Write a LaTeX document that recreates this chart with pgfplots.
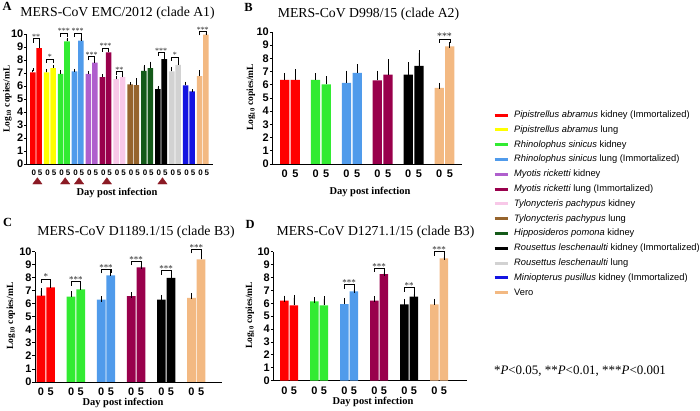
\documentclass[border=0pt]{standalone}
\usepackage{fontspec}
\setmainfont{Liberation Serif}
\setsansfont{Liberation Sans}
\usepackage{pgfplots}
\pgfplotsset{compat=1.18}

\definecolor{cRed}{RGB}{255,0,0}
\definecolor{cYel}{RGB}{255,255,0}
\definecolor{cGrn}{RGB}{50,235,50}
\definecolor{cBlu}{RGB}{80,155,235}
\definecolor{cPur}{RGB}{175,95,205}
\definecolor{cMar}{RGB}{153,0,76}
\definecolor{cPnk}{RGB}{248,200,232}
\definecolor{cBrn}{RGB}{150,100,45}
\definecolor{cDgr}{RGB}{20,90,25}
\definecolor{cBlk}{RGB}{0,0,0}
\definecolor{cGry}{RGB}{210,210,210}
\definecolor{cNav}{RGB}{20,20,225}
\definecolor{cVer}{RGB}{243,185,130}
\definecolor{cTri}{RGB}{139,26,36}

\pgfplotsset{
  panel/.style={
    scale only axis, anchor=south west,
    ymin=0, ymax=10, ytick={0,1,...,10},
    axis lines*=left,
    axis line style={line width=0.9bp},
    tick style={line width=0.9bp, black},
    tick align=outside,
    major tick length=2.5bp,
    xtick style={draw=none},
    clip=false,
    /pgf/number format/assume math mode=true,
    yticklabel style={font=\sffamily\bfseries\fontsize{11}{11}\selectfont, inner sep=0.8bp},
    xticklabel style={font=\sffamily\bfseries\fontsize{11}{11}\selectfont},
    legend image code/.code={\draw[##1] (0bp,0bp) -- (13bp,0bp);},
  },
  bars/.style={ybar, bar shift=0pt, draw=none, fill=#1,
    error bars/y dir=plus, error bars/y explicit,
    error bars/error bar style={black, line width=0.7bp}},
  brk/.style={black, line width=0.6bp, mark=none},
}
\tikzset{
  starA/.style={font=\fontsize{8}{8}\selectfont, anchor=base, inner sep=0pt, text=black!85, yshift=-0.8bp},
  starB/.style={font=\fontsize{10}{10}\selectfont, anchor=base, inner sep=0pt, text=black!85, yshift=-1bp},
  starC/.style={font=\fontsize{9}{9}\selectfont, anchor=base, inner sep=0pt, text=black!85, yshift=-1bp},
}
\newcommand{\sig}[7]{%
  \addplot[brk, forget plot] coordinates {(#1,#3) (#1,#4) (#2,#4) (#2,#3)};
  \node[#7] at (axis cs:#5,#4) {#6};
}

\begin{document}
\begin{tikzpicture}
\useasboundingbox (0bp,0bp) rectangle (700bp,411bp);

% ---------------- Panel A ----------------
\begin{axis}[panel, at={(26.7bp,247bp)}, width=186.6bp, height=130bp,
  xmin=0.33, xmax=13.76, bar width=0.40,
  xtick={0.77,1.23,1.77,2.23,2.77,3.23,3.77,4.23,4.77,5.23,5.77,6.23,6.77,7.23,7.77,8.23,8.77,9.23,9.77,10.23,10.77,11.23,11.77,12.23,12.77,13.23},
  xticklabels={0,5,0,5,0,5,0,5,0,5,0,5,0,5,0,5,0,5,0,5,0,5,0,5,0,5},
  xticklabel style={font=\sffamily\bfseries\fontsize{8}{8}\selectfont, xshift=1bp},
  error bars/error mark options={black, line width=0.6bp, mark size=1.5bp},
  legend cell align=left,
  legend style={at={(2.499,0.41)}, anchor=north west, draw=none, fill=none,
    inner sep=0pt, row sep=6.2bp, column sep=5bp,
    nodes={font=\sffamily\fontsize{9.35}{9.35}\selectfont, inner sep=0pt, text height=6.7bp, text depth=1.9bp}},
]
\addlegendimage{line width=3bp, draw=cRed}\addlegendentry{\textit{Pipistrellus abramus} kidney (Immortalized)}
\addlegendimage{line width=3bp, draw=cYel}\addlegendentry{\textit{Pipistrellus abramus} lung}
\addlegendimage{line width=3bp, draw=cGrn}\addlegendentry{\textit{Rhinolophus sinicus} kidney}
\addlegendimage{line width=3bp, draw=cBlu}\addlegendentry{\textit{Rhinolophus sinicus} lung (Immortalized)}
\addlegendimage{line width=3bp, draw=cPur}\addlegendentry{\textit{Myotis ricketti} kidney}
\addlegendimage{line width=3bp, draw=cMar}\addlegendentry{\textit{Myotis ricketti} lung (Immortalized)}
\addlegendimage{line width=3bp, draw=cPnk}\addlegendentry{\textit{Tylonycteris pachypus} kidney}
\addlegendimage{line width=3bp, draw=cBrn}\addlegendentry{\textit{Tylonycteris pachypus} lung}
\addlegendimage{line width=3bp, draw=cDgr}\addlegendentry{\textit{Hipposideros pomona} kidney}
\addlegendimage{line width=3bp, draw=cBlk}\addlegendentry{\textit{Rousettus leschenaulti} kidney (Immortalized)}
\addlegendimage{line width=3bp, draw=cGry}\addlegendentry{\textit{Rousettus leschenaulti} lung}
\addlegendimage{line width=3bp, draw=cNav}\addlegendentry{\textit{Miniopterus pusillus} kidney (Immortalized)}
\addlegendimage{line width=3bp, draw=cVer}\addlegendentry{Vero}

\addplot[bars=cRed, forget plot] coordinates {(0.77,7.04) +- (0,0.21) (1.23,8.92) +- (0,0.38)};
\addplot[bars=cYel, forget plot] coordinates {(1.77,7.04) +- (0,0.16) (2.23,7.38) +- (0,0.12)};
\addplot[bars=cGrn, forget plot] coordinates {(2.77,6.94) +- (0,0.16) (3.23,9.43) +- (0,0.17)};
\addplot[bars=cBlu, forget plot] coordinates {(3.77,7.12) +- (0,0.08) (4.23,9.49) +- (0,0.21)};
\addplot[bars=cPur, forget plot] coordinates {(4.77,6.94) +- (0,0.10) (5.23,7.80) +- (0,0.20)};
\addplot[bars=cMar, forget plot] coordinates {(5.77,6.68) +- (0,0.12) (6.23,8.59) +- (0,0.15)};
\addplot[bars=cPnk, forget plot] coordinates {(6.77,6.53) +- (0,0.10) (7.23,6.68) +- (0,0.11)};
\addplot[bars=cBrn, forget plot] coordinates {(7.77,6.12) +- (0,0.08) (8.23,6.07) +- (0,0.40)};
\addplot[bars=cDgr, forget plot] coordinates {(8.77,7.17) +- (0,0.33) (9.23,7.38) +- (0,0.38)};
\addplot[bars=cBlk, forget plot] coordinates {(9.77,5.76) +- (0,0.14) (10.23,8.07) +- (0,0.21)};
\addplot[bars=cGry, forget plot] coordinates {(10.77,7.12) +- (0,0.21) (11.23,7.63) +- (0,0.37)};
\addplot[bars=cNav, forget plot] coordinates {(11.77,6.04) +- (0,0.18) (12.23,5.58) +- (0,0.07)};
\addplot[bars=cVer, forget plot] coordinates {(12.77,6.75) +- (0,0.35) (13.23,9.95) +- (0,0.10)};

\addplot[only marks, mark=triangle*, color=cTri, mark size=5.4bp, mark options={yscale=0.78}, forget plot]
  coordinates {(1.1,-1.38) (3.1,-1.38) (4.1,-1.38) (6.1,-1.38) (10.1,-1.38)};

\sig{0.77}{1.23}{9.34}{9.64}{1}{**}{starA}
\sig{1.77}{2.23}{7.77}{8.07}{2}{*}{starA}
\sig{2.77}{3.23}{9.78}{10.08}{3}{***}{starA}
\sig{3.77}{4.23}{9.78}{10.08}{4}{***}{starA}
\sig{4.77}{5.23}{7.98}{8.28}{5}{***}{starA}
\sig{5.77}{6.23}{8.62}{8.92}{6}{***}{starA}
\sig{6.77}{7.23}{6.82}{7.12}{7}{**}{starA}
\sig{9.77}{10.23}{8.29}{8.59}{10}{***}{starA}
\sig{10.77}{11.23}{7.93}{8.23}{11}{*}{starA}
\sig{12.77}{13.23}{9.90}{10.20}{13}{***}{starA}
\end{axis}

% ---------------- Panel B ----------------
\begin{axis}[panel, at={(272.3bp,247bp)}, width=189.4bp, height=132bp,
  xmin=0.427, xmax=6.557, bar width=0.30,
  xtick={0.827,1.173,1.827,2.173,2.827,3.173,3.827,4.173,4.827,5.173,5.827,6.173},
  xticklabels={0,5,0,5,0,5,0,5,0,5,0,5},
  error bars/error mark options={black, line width=0.7bp, mark size=3bp},
]
\addplot[bars=cRed, forget plot] coordinates {(0.827,6.38) +- (0,0.30) (1.173,6.38) +- (0,0.56)};
\addplot[bars=cGrn, forget plot] coordinates {(1.827,6.38) +- (0,0.25) (2.173,6.03) +- (0,0.40)};
\addplot[bars=cBlu, forget plot] coordinates {(2.827,6.15) +- (0,0.69) (3.173,6.91) +- (0,0.41)};
\addplot[bars=cMar, forget plot] coordinates {(3.827,6.33) +- (0,0.51) (4.173,6.78) +- (0,0.92)};
\addplot[bars=cBlk, forget plot] coordinates {(4.827,6.78) +- (0,0.71) (5.173,7.44) +- (0,0.96)};
\addplot[bars=cVer, forget plot] coordinates {(5.827,5.77) +- (0,0.15) (6.173,8.91) +- (0,0.10)};
\sig{5.827}{6.173}{9.17}{9.47}{6}{***}{starB}
\end{axis}

% ---------------- Panel C ----------------
\begin{axis}[panel, at={(35bp,29bp)}, width=186.7bp, height=130.3bp,
  xmin=0.641, xmax=6.844, bar width=0.29,
  xtick={0.84,1.16,1.84,2.16,2.84,3.16,3.84,4.16,4.84,5.16,5.84,6.16},
  xticklabels={0,5,0,5,0,5,0,5,0,5,0,5},
  error bars/error mark options={black, line width=0.7bp, mark size=3bp},
]
\addplot[bars=cRed, forget plot] coordinates {(0.84,6.62) +- (0,0.38) (1.16,7.26) +- (0,0.20)};
\addplot[bars=cGrn, forget plot] coordinates {(1.84,6.56) +- (0,0.16) (2.16,7.10) +- (0,0.16)};
\addplot[bars=cBlu, forget plot] coordinates {(2.84,6.33) +- (0,0.02) (3.16,8.18) +- (0,0.15)};
\addplot[bars=cMar, forget plot] coordinates {(3.84,6.59) +- (0,0.08) (4.16,8.79) +- (0,0.11)};
\addplot[bars=cBlk, forget plot] coordinates {(4.84,6.33) +- (0,0.13) (5.16,8.00) +- (0,0.13)};
\addplot[bars=cVer, forget plot] coordinates {(5.84,6.46) +- (0,0.13) (6.16,9.41) +- (0,0.33)};
\sig{0.84}{1.16}{7.62}{7.92}{1}{*}{starC}
\sig{1.84}{2.16}{7.39}{7.69}{2}{***}{starC}
\sig{2.84}{3.16}{8.34}{8.64}{3}{***}{starC}
\sig{3.84}{4.16}{8.96}{9.26}{4}{***}{starC}
\sig{4.84}{5.16}{8.24}{8.54}{5}{***}{starC}
\sig{5.84}{6.16}{9.88}{10.18}{6}{***}{starC}
\end{axis}

% ---------------- Panel D ----------------
\begin{axis}[panel, at={(273.3bp,30.3bp)}, width=193.4bp, height=129bp,
  xmin=0.47, xmax=6.917, bar width=0.283,
  xtick={0.843,1.157,1.843,2.157,2.843,3.157,3.843,4.157,4.843,5.157,5.843,6.157},
  xticklabels={0,5,0,5,0,5,0,5,0,5,0,5},
  error bars/error mark options={black, line width=0.7bp, mark size=3bp},
]
\addplot[bars=cRed, forget plot] coordinates {(0.843,6.20) +- (0,0.16) (1.157,5.84) +- (0,0.59)};
\addplot[bars=cGrn, forget plot] coordinates {(1.843,6.15) +- (0,0.10) (2.157,5.84) +- (0,0.46)};
\addplot[bars=cBlu, forget plot] coordinates {(2.843,5.94) +- (0,0.24) (3.157,6.93) +- (0,0.12)};
\addplot[bars=cMar, forget plot] coordinates {(3.843,6.20) +- (0,0.10) (4.157,8.27) +- (0,0.10)};
\addplot[bars=cBlk, forget plot] coordinates {(4.843,5.92) +- (0,0.20) (5.157,6.51) +- (0,0.18)};
\addplot[bars=cVer, forget plot] coordinates {(5.843,5.92) +- (0,0.20) (6.157,9.48) +- (0,0.08)};
\sig{2.843}{3.157}{7.14}{7.44}{3}{***}{starC}
\sig{3.843}{4.157}{8.41}{8.71}{4}{***}{starC}
\sig{4.843}{5.157}{6.91}{7.21}{5}{**}{starC}
\sig{5.843}{6.157}{9.70}{10.00}{6}{***}{starC}
\end{axis}

% ---------------- Texts ----------------
\tikzset{ttl/.style={font=\fontsize{13.8}{13.8}\selectfont, inner sep=0pt},
         lett/.style={font=\bfseries\fontsize{12.5}{12.5}\selectfont, inner sep=0pt},
         xl/.style={font=\bfseries\fontsize{10.5}{10.5}\selectfont, inner sep=0pt},
         yl/.style={font=\bfseries\fontsize{9.5}{9.5}\selectfont, inner sep=0pt, rotate=90}}
\node[lett] at (7bp,404.3bp) {A};
\node[lett] at (248.5bp,404bp) {B};
\node[lett] at (7.5bp,188.3bp) {C};
\node[lett] at (250bp,187bp) {D};
\node[ttl] at (117.5bp,398bp) {MERS-CoV EMC/2012 (clade A1)};
\node[ttl] at (368.5bp,397bp) {MERS-CoV D998/15 (clade A2)};
\node[ttl] at (136bp,179bp) {MERS-CoV D1189.1/15 (clade B3)};
\node[ttl] at (375.5bp,179bp) {MERS-CoV D1271.1/15 (clade B3)};
\node[xl] at (117bp,218bp) {Day post infection};
\node[xl] at (370bp,219bp) {Day post infection};
\node[xl] at (123bp,8bp) {Day post infection};
\node[xl] at (373bp,9.3bp) {Day post infection};
\node[yl] at (7.5bp,312bp) {Log\textsubscript{10} copies/mL};
\node[yl] at (251bp,313.5bp) {Log\textsubscript{10} copies/mL};
\node[yl] at (11bp,95bp) {Log\textsubscript{10} copies/mL};
\node[yl] at (250bp,95.5bp) {Log\textsubscript{10} copies/mL};
\node[font=\fontsize{13}{13}\selectfont, inner sep=0pt] at (580bp,40bp) {*\textit{P}<0.05, **\textit{P}<0.01, ***\textit{P}<0.001};
\end{tikzpicture}
\end{document}
